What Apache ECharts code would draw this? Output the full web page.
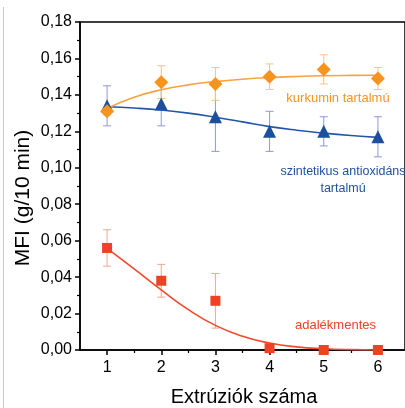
<!DOCTYPE html>
<html>
<head>
<meta charset="utf-8">
<script src="https://cdn.jsdelivr.net/npm/echarts@6/dist/echarts.min.js"></script>
<style>
  html, body { margin: 0; padding: 0; background: #fff; }
  #chart { width: 405px; height: 408px; }
</style>
</head>
<body>
<div id="chart"></div>
<script>
// Number of extrusion passes
const extrusions = [1, 2, 3, 4, 5, 6];

// Measured MFI values (g/10 min) and their standard deviations
const plainMFI = [0.056, 0.038, 0.027, 0.001, 0.000, 0.000];
const plainErr = [0.010, 0.009, 0.015, 0.000, 0.000, 0.000];

const curcuminMFI = [0.131, 0.147, 0.146, 0.150, 0.154, 0.149];
const curcuminErr = [0.002, 0.009, 0.009, 0.007, 0.008, 0.006];

const syntheticMFI = [0.134, 0.135, 0.128, 0.120, 0.120, 0.117];
const syntheticErr = [0.011, 0.012, 0.019, 0.011, 0.008, 0.011];

// Fitted trend curves, sampled every half pass
const fitX = [1, 1.5, 2, 2.5, 3, 3.5, 4, 4.5, 5, 5.5, 6];
const plainFit = [0.0558, 0.0445, 0.0330, 0.0222, 0.0135, 0.0075, 0.0038, 0.0017, 0.0007, 0.0002, 0.0000];
const curcuminFit = [0.1326, 0.1387, 0.1428, 0.1455, 0.1473, 0.1486, 0.1495, 0.1501, 0.1505, 0.1507, 0.1508];
const syntheticFit = [0.1335, 0.1328, 0.1317, 0.1300, 0.1277, 0.1252, 0.1226, 0.1206, 0.1190, 0.1177, 0.1167];

// Axis ticks
const xMinorTicks = [1.5, 2.5, 3.5, 4.5, 5.5];

const FONT = '"Liberation Sans", Arial, sans-serif';

const COLORS = {
  plain:     { mark: '#EE4125', line: '#F0492C', err: '#F6A394' },
  curcumin:  { mark: '#F7941E', line: '#F9A240', err: '#F9C287' },
  synthetic: { mark: '#1D4F9F', line: '#2456A6', err: '#8E98D0' }
};

function pairs(xs, ys) { return xs.map((x, i) => [x, ys[i]]); }
function errData(xs, ys, es) { return xs.map((x, i) => [x, ys[i] - es[i], ys[i] + es[i]]); }

function errorSeries(name, xs, ys, es, color) {
  return {
    name: name + ' hiba',
    type: 'custom',
    xAxisIndex: 0, yAxisIndex: 0,
    silent: true,
    z: 2,
    data: errData(xs, ys, es),
    renderItem: function (params, api) {
      const x = api.value(0);
      const lo = api.coord([x, api.value(1)]);
      const hi = api.coord([x, api.value(2)]);
      const cap = 4;
      const style = { stroke: color, lineWidth: 1, fill: null };
      return {
        type: 'group',
        children: [
          { type: 'line', shape: { x1: lo[0], y1: lo[1], x2: hi[0], y2: hi[1] }, style: style },
          { type: 'line', shape: { x1: lo[0] - cap, y1: lo[1], x2: lo[0] + cap, y2: lo[1] }, style: style },
          { type: 'line', shape: { x1: hi[0] - cap, y1: hi[1], x2: hi[0] + cap, y2: hi[1] }, style: style }
        ]
      };
    }
  };
}

function fitSeries(name, ys, color) {
  return {
    name: name + ' illesztés',
    type: 'line',
    xAxisIndex: 0, yAxisIndex: 0,
    data: pairs(fitX, ys),
    smooth: 0.5,
    showSymbol: false,
    silent: true,
    z: 3,
    lineStyle: { color: color, width: 1.6 }
  };
}

function pointSeries(name, ys, symbol, size, color, z) {
  return {
    name: name,
    type: 'scatter',
    xAxisIndex: 0, yAxisIndex: 0,
    data: pairs(extrusions, ys),
    symbol: symbol,
    symbolSize: size,
    itemStyle: { color: color, opacity: 1 },
    z: z
  };
}

const chart = echarts.init(document.getElementById('chart'), null, { renderer: 'canvas' });

chart.setOption({
  animation: false,
  backgroundColor: '#ffffff',
  grid: {
    left: 80, top: 22, right: -5.5, bottom: 58,
    show: true, borderColor: '#000', borderWidth: 1.5, backgroundColor: 'transparent'
  },
  xAxis: [
    {
      type: 'value', min: 0.5, max: 6.5,
      axisLine: { show: true, onZero: false, lineStyle: { color: '#000', width: 1.5 } },
      axisTick: { show: true, customValues: extrusions, length: 5, lineStyle: { color: '#000', width: 1.5 } },
      axisLabel: { show: true, customValues: extrusions, color: '#000', fontFamily: FONT, fontSize: 16, margin: 10 },
      splitLine: { show: false }
    },
    {
      type: 'value', min: 0.5, max: 6.5, position: 'bottom',
      axisLine: { show: false, onZero: false },
      axisTick: { show: true, customValues: xMinorTicks, length: 3, lineStyle: { color: '#000', width: 1.2 } },
      axisLabel: { show: false },
      splitLine: { show: false }
    }
  ],
  yAxis: {
    type: 'value', min: 0, max: 0.18, interval: 0.02,
    axisLine: { show: true, lineStyle: { color: '#000', width: 1.5 } },
    axisTick: { show: true, length: 5, lineStyle: { color: '#000', width: 1.5 } },
    minorTick: { show: true, splitNumber: 2, length: 3, lineStyle: { color: '#000', width: 1.2 } },
    axisLabel: {
      color: '#000', fontFamily: FONT, fontSize: 16, margin: 8,
      formatter: v => v.toFixed(2).replace('.', ',')
    },
    splitLine: { show: false }
  },
  series: [
    errorSeries('adalékmentes', extrusions, plainMFI, plainErr, COLORS.plain.err),
    errorSeries('szintetikus antioxidáns tartalmú', extrusions, syntheticMFI, syntheticErr, COLORS.synthetic.err),
    errorSeries('kurkumin tartalmú', extrusions, curcuminMFI, curcuminErr, COLORS.curcumin.err),
    fitSeries('adalékmentes', plainFit, COLORS.plain.line),
    fitSeries('szintetikus antioxidáns tartalmú', syntheticFit, COLORS.synthetic.line),
    fitSeries('kurkumin tartalmú', curcuminFit, COLORS.curcumin.line),
    pointSeries('adalékmentes', plainMFI, 'rect', 10, COLORS.plain.mark, 5),
    pointSeries('szintetikus antioxidáns tartalmú', syntheticMFI, 'triangle', 13, COLORS.synthetic.mark, 5),
    pointSeries('kurkumin tartalmú', curcuminMFI, 'diamond', 14, COLORS.curcumin.mark, 6)
  ],
  graphic: [
    // thin frame line at the left edge of the figure
    { type: 'line', shape: { x1: 3.5, y1: 7, x2: 3.5, y2: 408 }, style: { stroke: '#c8c8c8', lineWidth: 1 }, silent: true },
    // axis titles
    {
      type: 'text', x: 23, y: 198, rotation: Math.PI / 2,
      style: { text: 'MFI (g/10 min)', fill: '#000', font: '21px ' + FONT, align: 'center', verticalAlign: 'middle' }
    },
    {
      type: 'text', x: 244, y: 397,
      style: { text: 'Extrúziók száma', fill: '#000', font: '20px ' + FONT, align: 'center', verticalAlign: 'middle' }
    },
    // series labels
    {
      type: 'text', x: 338, y: 98,
      style: { text: 'kurkumin tartalmú', fill: COLORS.curcumin.mark, font: '13px ' + FONT, align: 'center', verticalAlign: 'middle' }
    },
    {
      type: 'text', x: 343, y: 180,
      style: { text: 'szintetikus antioxidáns\ntartalmú', fill: COLORS.synthetic.mark, font: '12.5px ' + FONT, align: 'center', verticalAlign: 'middle', lineHeight: 17 }
    },
    {
      type: 'text', x: 335.5, y: 325,
      style: { text: 'adalékmentes', fill: COLORS.plain.mark, font: '13px ' + FONT, align: 'center', verticalAlign: 'middle' }
    }
  ]
});
</script>
</body>
</html>
